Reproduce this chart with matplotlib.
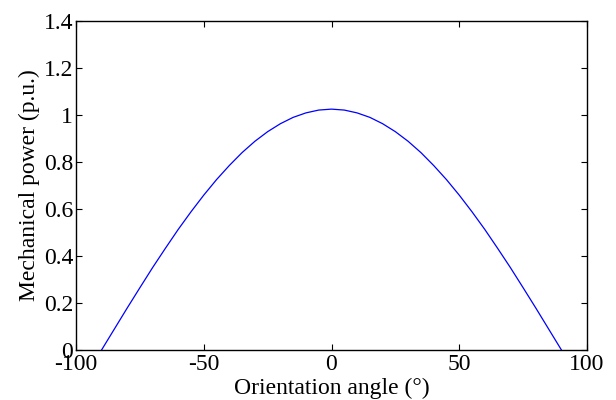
import matplotlib
matplotlib.use('Agg')
import matplotlib.pyplot as plt

# orientation angle (deg) and mechanical power (p.u.)
angle = [-90, -85, -80, -75, -70, -65, -60, -55, -50, -45, -40, -35, -30, -25, -20, -15, -10, -5,
         0, 5, 10, 15, 20, 25, 30, 35, 40, 45, 50, 55, 60, 65, 70, 75, 80, 85, 90]
power = [0.0, 0.089, 0.178, 0.265, 0.351, 0.433, 0.513, 0.588, 0.659, 0.725, 0.785, 0.840, 0.888,
         0.929, 0.963, 0.990, 1.009, 1.021, 1.025, 1.021, 1.009, 0.990, 0.963, 0.929, 0.888, 0.840,
         0.785, 0.725, 0.659, 0.588, 0.513, 0.433, 0.351, 0.265, 0.178, 0.089, 0.0]

xticks = [-100, -50, 0, 50, 100]
yticks = [0, 0.2, 0.4, 0.6, 0.8, 1, 1.2, 1.4]
ylabels = ['0', '0.2', '0.4', '0.6', '0.8', '1', '1.2', '1.4']

plt.rcParams['font.family'] = ['Liberation Serif', 'DejaVu Serif']
plt.rcParams['font.size'] = 17

fig = plt.figure(figsize=(6.16, 4.0), dpi=100)
ax = fig.add_axes([76/616, 1 - 350/400, (587-76)/616, (350-21)/400])
ax.plot(angle, power, color='blue', linewidth=0.9)
ax.set_xlim(-100, 100)
ax.set_ylim(0, 1.4)
ax.set_xticks(xticks)
ax.set_xticklabels([str(t) for t in xticks])
ax.set_yticks(yticks)
ax.set_yticklabels(ylabels)
ax.tick_params(direction='in', top=True, right=True, length=4, width=0.8)
ax.tick_params(axis='x', pad=3)
ax.tick_params(axis='y', pad=2)
for s in ax.spines.values():
    s.set_linewidth(1.0)
ax.set_xlabel('Orientation angle (°)', labelpad=2)
ax.set_ylabel('Mechanical power (p.u.)', labelpad=3)

fig.savefig('out.png', dpi=100)
